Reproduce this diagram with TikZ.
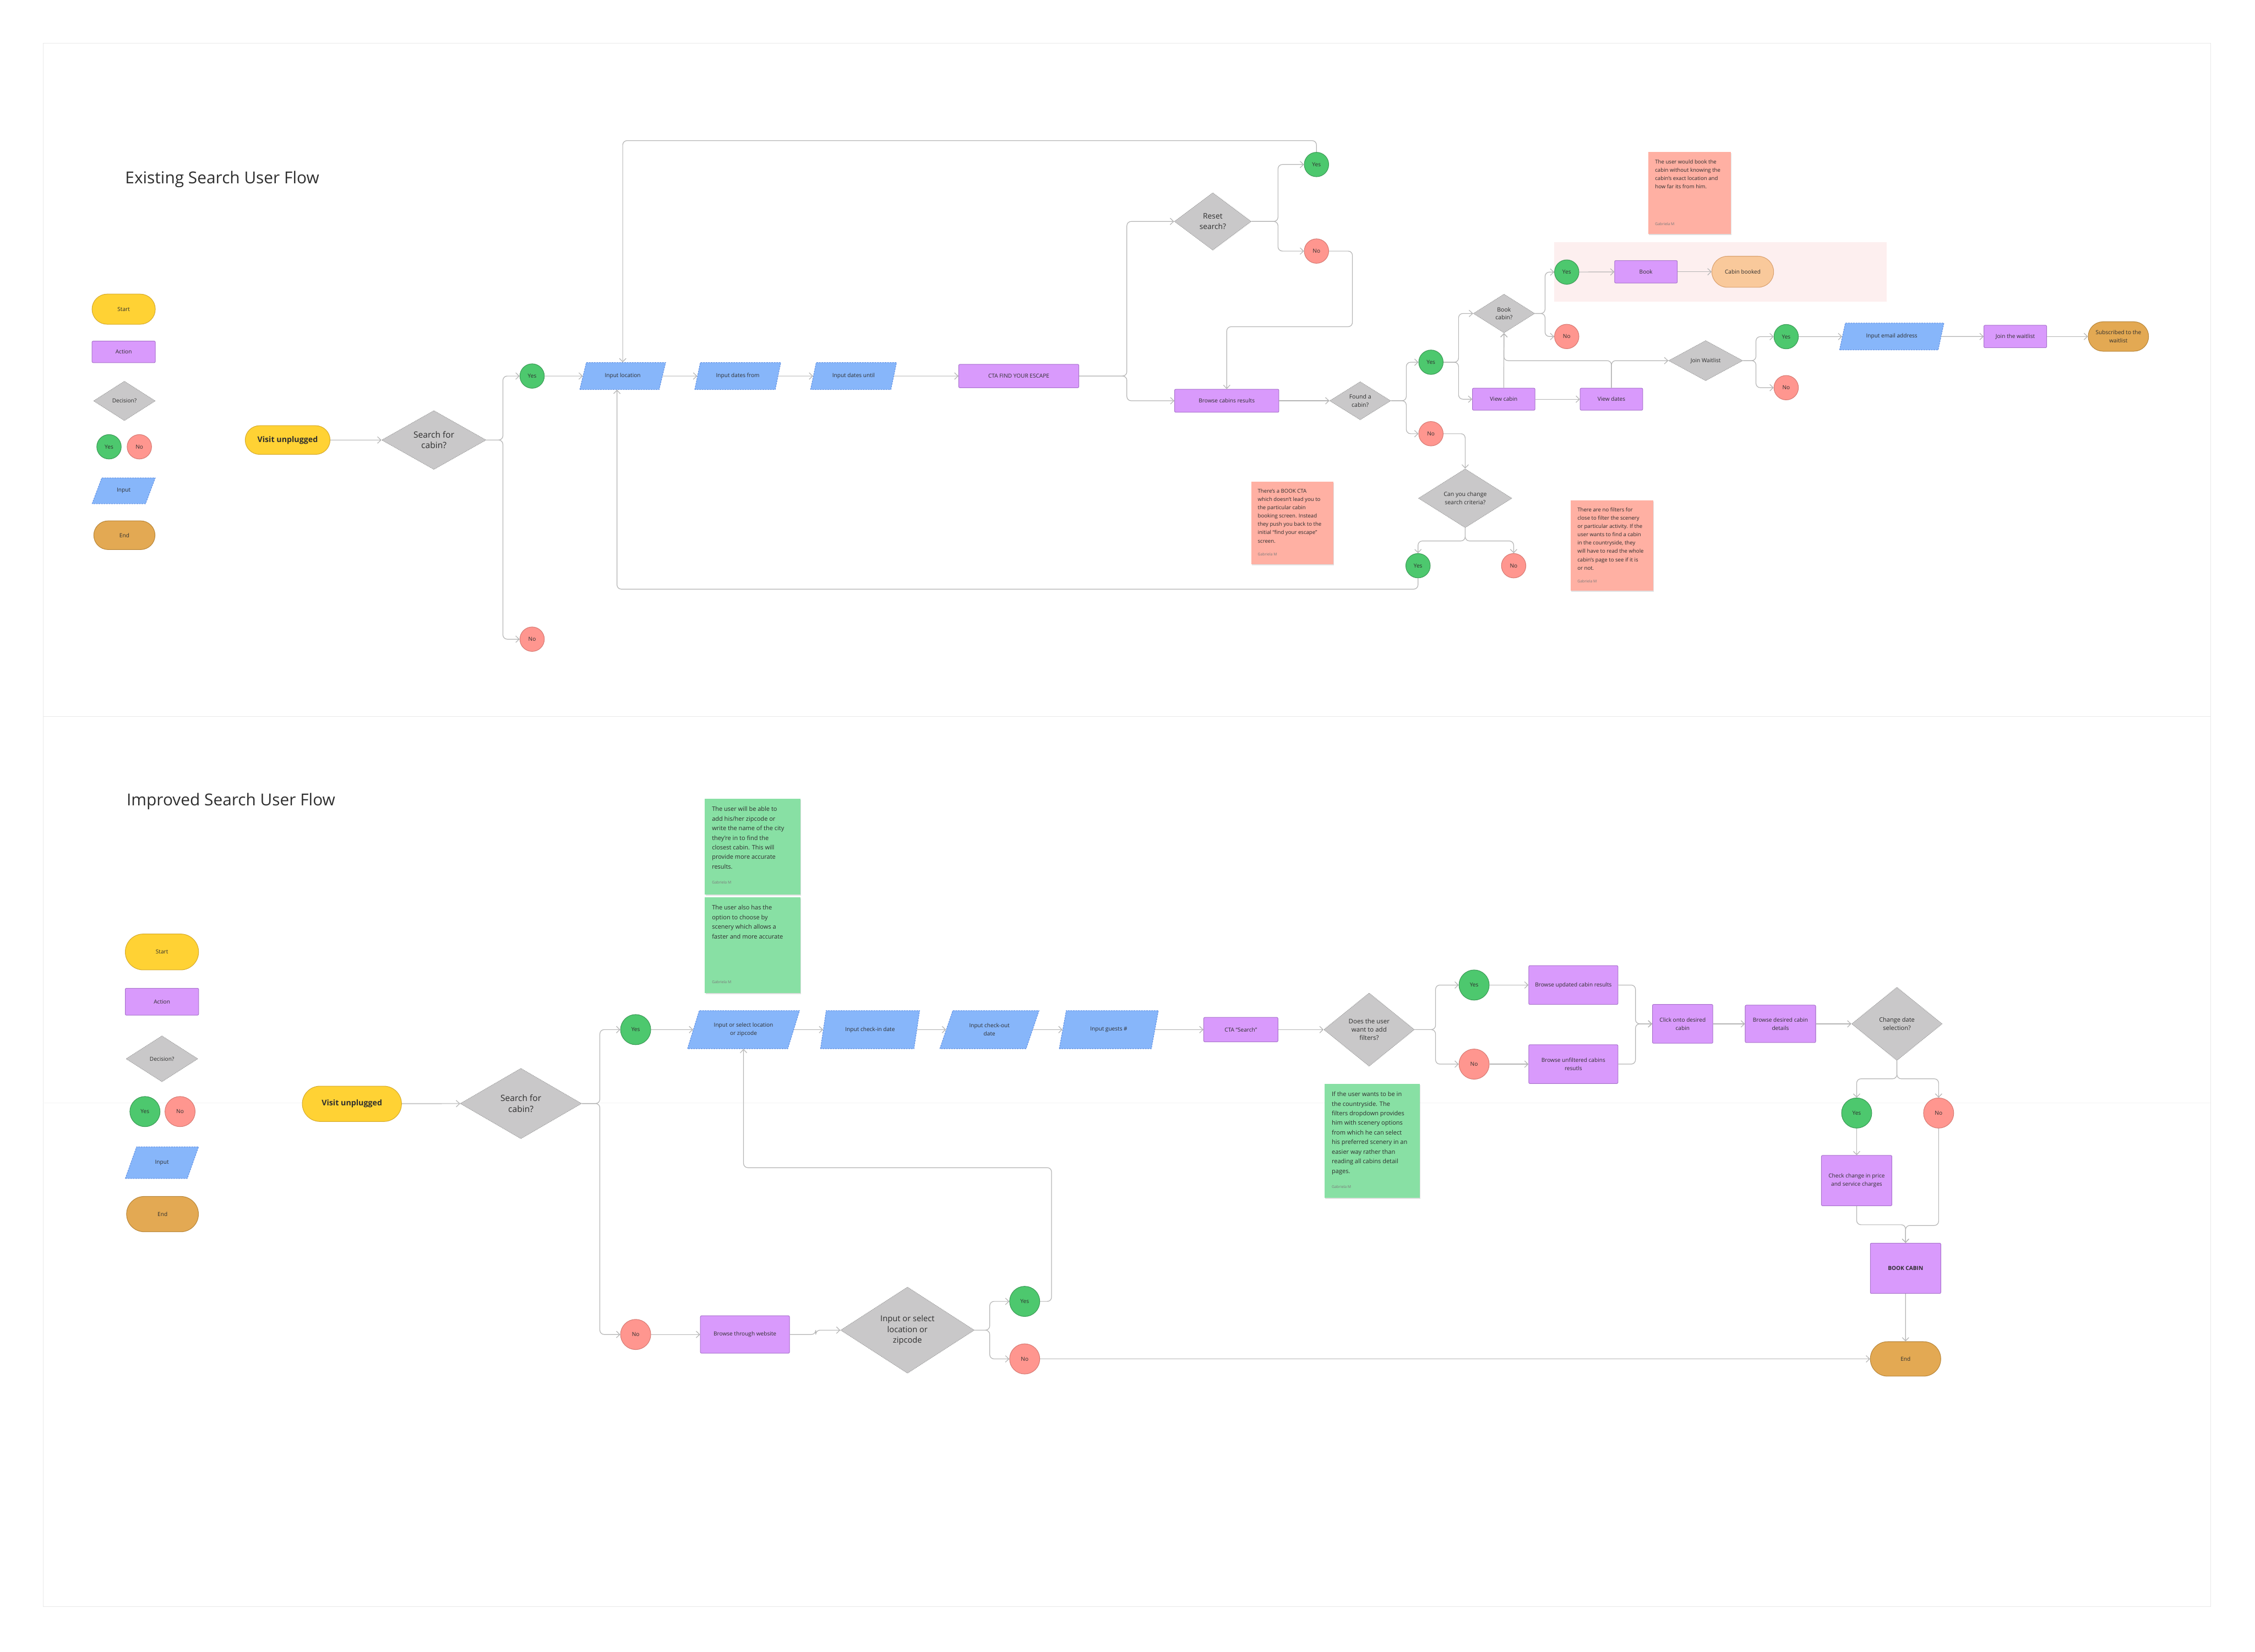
\documentclass[tikz,border=0pt]{standalone}
\usepackage{fontspec}
\setmainfont{Open Sans}
\usetikzlibrary{shapes.geometric,shapes.misc,arrows.meta,shadows}

\definecolor{ink}{HTML}{2E2E2E}
\definecolor{linegray}{HTML}{B4B4B4}
\definecolor{framegray}{HTML}{E9E9E9}
\definecolor{startfill}{HTML}{FFD234}
\definecolor{startdraw}{HTML}{D6AA2A}
\definecolor{actionfill}{HTML}{D99AFC}
\definecolor{actiondraw}{HTML}{A872CC}
\definecolor{decfill}{HTML}{C9C8C9}
\definecolor{decdraw}{HTML}{A3A3A3}
\definecolor{yesfill}{HTML}{4DC86E}
\definecolor{yesdraw}{HTML}{3A9A55}
\definecolor{nofill}{HTML}{FF968F}
\definecolor{nodraw}{HTML}{D67972}
\definecolor{inputfill}{HTML}{87B6FA}
\definecolor{inputdraw}{HTML}{5C8DE2}
\definecolor{endfill}{HTML}{E3A953}
\definecolor{enddraw}{HTML}{B88537}
\definecolor{bookedfill}{HTML}{F9C99B}
\definecolor{bookeddraw}{HTML}{D9A06E}
\definecolor{pinkzone}{HTML}{FDEFEF}
\definecolor{salmonnote}{HTML}{FFB0A3}
\definecolor{greennote}{HTML}{88E0A4}
\definecolor{signgray}{HTML}{7A7A7A}

\newcommand{\lblfont}{\fontsize{11}{16}\selectfont}
\newcommand{\nlblfont}{\fontsize{11}{16}\selectfont}
\newcommand{\decfont}{\fontsize{11.5}{16}\selectfont}
\newcommand{\bigdecfont}{\fontsize{17}{21}\selectfont}
\newcommand{\visitfont}{\fontsize{15.5}{18}\selectfont\bfseries}
\newcommand{\notefont}{\fontsize{10.5}{16.4}\selectfont}
\newcommand{\gnotefont}{\fontsize{12}{19}\selectfont}
\newcommand{\signfont}{\fontsize{7.5}{9}\selectfont}
\newcommand{\titlefont}{\fontsize{32.5}{36}\selectfont}

\tikzset{
  wh/.style 2 args={minimum width=#1mm, minimum height=#2mm},
  flowbase/.style={inner sep=0pt, text=ink, font=\lblfont, align=center, line width=1.1pt},
  terminal/.style={flowbase, rounded rectangle, draw=startdraw, fill=startfill},
  action/.style={flowbase, rectangle, rounded corners=0.8mm, draw=actiondraw, fill=actionfill},
  decision/.style={flowbase, diamond, draw=decdraw, fill=decfill, dash pattern=on 2pt off 1.3pt},
  yesball/.style={flowbase, circle, draw=yesdraw, fill=yesfill, minimum size=17mm},
  noball/.style={flowbase, circle, draw=nodraw, fill=nofill, minimum size=17mm},
  inputbox/.style={flowbase, trapezium, trapezium left angle=60, trapezium right angle=120,
    trapezium stretches=true, draw=inputdraw, fill=inputfill, dash pattern=on 3pt off 2pt},
  endbox/.style={flowbase, rounded rectangle, draw=enddraw, fill=endfill},
  bookedbox/.style={flowbase, rounded rectangle, draw=bookeddraw, fill=bookedfill},
  sticky/.style={rectangle, inner sep=0pt, anchor=north west,
    drop shadow={shadow xshift=0.5mm, shadow yshift=-0.8mm, fill=black, opacity=0.12}},
  notetext/.style={anchor=north west, inner sep=0pt, align=left, text=ink, font=\notefont},
  signature/.style={anchor=north west, inner sep=0pt, text=signgray, font=\signfont},
  connector/.style={draw=linegray, line width=1.3pt, rounded corners=3mm, ->},
}

\begin{document}
\begin{tikzpicture}[x=1mm, y=-1mm, >={Straight Barb[length=2.4mm,width=4.6mm]}]
    \fill[white] (0,0) rectangle (1568,1148.8);
    \useasboundingbox (0,0) rectangle (1568,1148.8);
    \draw[framegray, line width=0.6pt] (30,30) rectangle (1537,498);
    \draw[framegray, line width=0.6pt] (30,498) rectangle (1537,1117);
    \draw[framegray!50, line width=0.6pt] (30,767) -- (1537,767);
    \fill[pinkzone] (1080.6,168.4) rectangle (1311.7,209.8);

    \node[anchor=west, font=\titlefont, text=ink, inner sep=0pt] (titleold) at (87,124.6) {Existing Search User Flow};
    \node[anchor=west, font=\titlefont, text=ink, inner sep=0pt] (titlenew) at (88,557.3) {Improved Search User Flow};

    \node[terminal, wh={44}{21}] (keystart) at (86,215) {Start};
    \node[action, wh={44}{15}] (keyaction) at (86,244.7) {Action};
    \node[decision, wh={43}{27.5}] (keydecision) at (86.5,278.8) {Decision?};
    \node[yesball] (keyyes) at (75.8,310.7) {Yes};
    \node[noball] (keyno) at (96.9,310.7) {No};
    \node[inputbox, wh={44}{18}] (keyinput) at (86,341.3) {Input};
    \node[endbox, wh={42.6}{20}] (keyend) at (86.5,372.2) {End};

    \node[terminal, wh={59}{20}, font=\visitfont] (visit) at (200,306) {Visit unplugged};
    \node[decision, wh={72.6}{41}, font=\bigdecfont] (search) at (301.7,306) {Search for\\cabin?};
    \node[yesball] (yes1) at (370,261.5) {Yes};
    \node[noball] (no1) at (370,444.5) {No};
    \node[inputbox, wh={60}{18.7}] (location) at (433,261.5) {Input location};
    \node[inputbox, wh={60}{18.7}] (datesfrom) at (513,261.5) {Input dates from};
    \node[inputbox, wh={60}{18.7}] (datesuntil) at (593.5,261.5) {Input dates until};
    \node[action, wh={83.5}{16.3}] (cta) at (708.4,261.5) {CTA FIND YOUR ESCAPE};
    \node[decision, wh={53.5}{40}, font=\fontsize{15}{21}\selectfont] (reset) at (843.3,154) {Reset\\search?};
    \node[yesball] (resetyes) at (915.4,114.4) {Yes};
    \node[noball] (resetno) at (915.4,174.6) {No};
    \node[action, wh={72.5}{16}] (browse) at (853,278.7) {Browse cabins results};
    \node[decision, wh={42.5}{26.6}, font=\decfont] (found) at (945.8,278.7) {Found a\\cabin?};
    \node[yesball] (foundyes) at (995,251.9) {Yes};
    \node[noball] (foundno) at (995,301.6) {No};
    \node[decision, wh={42.7}{27}, font=\decfont] (bookq) at (1045.8,218) {Book\\cabin?};
    \node[action, wh={43.5}{15.3}] (viewcabin) at (1045.6,277.6) {View cabin};
    \node[action, wh={43.5}{15.3}] (viewdates) at (1120.5,277.6) {View dates};
    \node[yesball] (bookyes) at (1089.4,189.2) {Yes};
    \node[noball] (bookno) at (1089.4,234) {No};
    \node[action, wh={43.6}{15.6}] (book) at (1144.5,189) {Book};
    \node[bookedbox, wh={43}{21.6}] (booked) at (1211.8,189) {Cabin booked};
    \node[decision, wh={51.6}{28}] (joinq) at (1186,250.8) {Join Waitlist};
    \node[yesball] (joinyes) at (1242,234.1) {Yes};
    \node[noball] (joinno) at (1242,269.6) {No};
    \node[inputbox, wh={72.7}{18.7}] (email) at (1315.4,234) {Input email address};
    \node[action, wh={43.6}{15.6}] (joinlist) at (1401.3,234) {Join the waitlist};
    \node[endbox, wh={42}{20.5}] (subscribed) at (1473,234) {Subscribed to the\\waitlist};
    \node[decision, wh={65}{41}, font=\decfont] (changeq) at (1018.8,346.5) {Can you change\\search criteria?};
    \node[yesball] (changeyes) at (986,393.4) {Yes};
    \node[noball] (changeno) at (1052.5,393.4) {No};

    \draw[connector] (visit) -- (search);
    \draw[connector] (search.east) -- ++(11.5,0) |- (yes1.west);
    \draw[connector] (search.east) -- ++(11.5,0) |- (no1.west);
    \draw[connector] (yes1) -- (location);
    \draw[connector] (location) -- (datesfrom);
    \draw[connector] (datesfrom) -- (datesuntil);
    \draw[connector] (datesuntil) -- (cta);
    \draw[connector] (cta.east) -- ++(33.2,0) |- (reset.west);
    \draw[connector] (cta.east) -- ++(33.2,0) |- (browse.west);
    \draw[connector] (reset.east) -- ++(18.4,0) |- (resetyes.west);
    \draw[connector] (reset.east) -- ++(18.4,0) |- (resetno.west);
    \draw[connector] (resetyes.north) -- ++(0,-7.9) -| (location.north);
    \draw[connector] (resetno.east) -| ++(16.3,52.6) -| (browse.north);
    \draw[connector] (browse) -- (found);
    \draw[connector] (found.east) -- ++(10.6,0) |- (foundyes.west);
    \draw[connector] (found.east) -- ++(10.6,0) |- (foundno.west);
    \draw[connector] (foundyes.east) -- ++(10.5,0) |- (bookq.west);
    \draw[connector] (foundyes.east) -- ++(10.5,0) |- (viewcabin.west);
    \draw[connector] (viewcabin) -- (bookq);
    \draw[connector] (viewcabin) -- (viewdates);
    \draw[connector] (viewdates.north) |- (viewcabin.north |- joinq.west) -- (bookq.south);
    \draw[connector] (viewdates.north) |- (joinq.west);
    \draw[connector] (bookq.east) -- ++(7,0) |- (bookyes.west);
    \draw[connector] (bookq.east) -- ++(7,0) |- (bookno.west);
    \draw[connector] (bookyes) -- (book);
    \draw[connector] (book) -- (booked);
    \draw[connector] (joinq.east) -- ++(9,0) |- (joinyes.west);
    \draw[connector] (joinq.east) -- ++(9,0) |- (joinno.west);
    \draw[connector] (joinyes) -- (email);
    \draw[connector] (email) -- (joinlist);
    \draw[connector] (joinlist) -- (subscribed);
    \draw[connector] (foundno.east) -| (changeq.north);
    \draw[connector] (changeq.south) -- ++(0,9) -| (changeyes.north);
    \draw[connector] (changeq.south) -- ++(0,9) -| (changeno.north);
    \draw[connector] (changeyes.south) -- ++(0,7.6) -| ([xshift=-4mm]location.south);

    \node[sticky, fill=salmonnote, wh={57.4}{57}] (notebook) at (1146,105.7) {};
    \node[notetext] (notebooktext) at ([shift={(4.8,5.4)}]notebook.north west) {The user would book the\\cabin without knowing the\\cabin’s exact location and\\how far its from him.};
    \node[signature] (notebooksign) at ([shift={(4.8,48.8)}]notebook.north west) {Gabriela M};
    \node[sticky, fill=salmonnote, wh={57}{57.3}] (notecta) at (870,335) {};
    \node[notetext] (notectatext) at ([shift={(4.5,5.0)}]notecta.north west) {There’s a BOOK CTA\\which doesn’t lead you to\\the particular cabin\\booking screen. Instead\\they push you back to the\\initial “find your escape”\\screen.};
    \node[signature] (notectasign) at ([shift={(4.5,49.5)}]notecta.north west) {Gabriela M};
    \node[sticky, fill=salmonnote, wh={57.4}{62.8}] (notefilter) at (1092,348) {};
    \node[notetext] (notefiltertext) at ([shift={(4.8,5.0)}]notefilter.north west) {There are no filters for\\close to filter the scenery\\or particular activity. If the\\user wants to find a cabin\\in the countryside, they\\will have to read the whole\\cabin’s page to see if it is\\or not.};
    \node[signature] (notefiltersign) at ([shift={(4.8,55)}]notefilter.north west) {Gabriela M};

    \node[terminal, wh={51}{25}] (nkeystart) at (112.6,662) {Start};
    \node[action, wh={51}{18.7}] (nkeyaction) at (112.6,696.6) {Action};
    \node[decision, wh={50}{32}] (nkeydecision) at (112.6,736.3) {Decision?};
    \node[yesball, minimum size=21mm] (nkeyyes) at (100.8,773) {Yes};
    \node[noball, minimum size=21mm] (nkeyno) at (125.2,773) {No};
    \node[inputbox, wh={51}{22}] (nkeyinput) at (112.6,808.5) {Input};
    \node[endbox, wh={50}{24.6}] (nkeyend) at (113,844.3) {End};

    \node[terminal, wh={69}{24.6}, font=\visitfont] (nvisit) at (244.7,767.6) {Visit unplugged};
    \node[decision, wh={84.4}{49}, font=\bigdecfont] (nsearch) at (362.2,767.4) {Search for\\cabin?};
    \node[yesball, minimum size=21mm] (nyes) at (442,716) {Yes};
    \node[noball, minimum size=21mm] (nno) at (442,928) {No};
    \node[inputbox, wh={78}{26.5}, font=\nlblfont] (nlocation) at (517,716) {Input or select location\\or zipcode};
    \node[inputbox, wh={69}{26.5}, font=\nlblfont] (ncheckin) at (605,716) {Input check-in date};
    \node[inputbox, wh={69}{26.5}, font=\nlblfont] (ncheckout) at (688,716) {Input check-out\\date};
    \node[inputbox, wh={69}{26.5}, font=\nlblfont] (nguests) at (771,716) {Input guests \#};
    \node[action, wh={51.6}{17}, font=\nlblfont] (ncta) at (862.8,716) {CTA “Search”};
    \node[decision, wh={63}{51}, font=\fontsize{12.5}{16}\selectfont] (nfilters) at (952,716) {Does the user\\want to add\\filters?};
    \node[yesball, minimum size=21mm] (nfyes) at (1025,685) {Yes};
    \node[noball, minimum size=21mm] (nfno) at (1025,740) {No};
    \node[action, wh={62}{27}, font=\nlblfont] (nupdated) at (1094,685) {Browse updated cabin results};
    \node[action, wh={62}{27}, font=\nlblfont] (nunfiltered) at (1094,740) {Browse unfiltered cabins\\resutls};
    \node[action, wh={42}{27}, font=\nlblfont] (nclick) at (1170,712) {Click onto desired\\cabin};
    \node[action, wh={49}{26}, font=\nlblfont] (ndetails) at (1238,712) {Browse desired cabin\\details};
    \node[decision, wh={63}{51}, font=\fontsize{12}{16}\selectfont] (ndate) at (1319,712) {Change date\\selection?};
    \node[yesball, minimum size=21mm] (ndyes) at (1291,774) {Yes};
    \node[noball, minimum size=21mm] (ndno) at (1348,774) {No};
    \node[action, wh={49}{35}, font=\nlblfont] (ncheck) at (1291,821) {Check change in price\\and service charges};
    \node[action, wh={49}{35}, font=\nlblfont\bfseries] (nbook) at (1325,882) {BOOK CABIN};
    \node[endbox, wh={49}{24}, font=\nlblfont] (nend) at (1325,945) {End};
    \node[action, wh={62}{26}, font=\nlblfont] (nbrowse) at (518,928) {Browse through website};
    \node[decision, wh={93}{60}, font=\fontsize{16}{21}\selectfont] (ninput) at (631,925) {Input or select\\location or\\zipcode};
    \node[yesball, minimum size=21mm] (niyes) at (712.5,905) {Yes};
    \node[noball, minimum size=21mm] (nino) at (712.5,945) {No};

    \draw[connector] (nvisit) -- (nsearch);
    \draw[connector] (nsearch.east) -- ++(12.5,0) |- (nyes.west);
    \draw[connector] (nsearch.east) -- ++(12.5,0) |- (nno.west);
    \draw[connector] (nyes) -- (nlocation);
    \draw[connector] (nlocation) -- (ncheckin);
    \draw[connector] (ncheckin) -- (ncheckout);
    \draw[connector] (ncheckout) -- (nguests);
    \draw[connector] (nguests) -- (ncta);
    \draw[connector] (ncta) -- (nfilters);
    \draw[connector] (nfilters.east) -- ++(14.5,0) |- (nfyes.west);
    \draw[connector] (nfilters.east) -- ++(14.5,0) |- (nfno.west);
    \draw[connector] (nfyes) -- (nupdated);
    \draw[connector] (nfno) -- (nunfiltered);
    \draw[connector] (nupdated.east) -- ++(12,0) |- (nclick.west);
    \draw[connector] (nunfiltered.east) -- ++(12,0) |- (nclick.west);
    \draw[connector] (nclick) -- (ndetails);
    \draw[connector] (ndetails) -- (ndate);
    \draw[connector] (ndate.south) -- ++(0,12.5) -| (ndyes.north);
    \draw[connector] (ndate.south) -- ++(0,12.5) -| (ndno.north);
    \draw[connector] (ndyes) -- (ncheck);
    \draw[connector] (ncheck.south) -- ++(0,13) -| (nbook.north);
    \draw[connector] (ndno.south) -- ++(0,67.5) -| (nbook.north);
    \draw[connector] (nbook) -- (nend);
    \draw[connector] (nno) -- (nbrowse);
    \draw[connector] (nbrowse.east) -- ++(18,0) |- (ninput.west);
    \draw[connector] (ninput.east) -- ++(10.5,0) |- (niyes.west);
    \draw[connector] (ninput.east) -- ++(10.5,0) |- (nino.west);
    \draw[connector] (niyes.east) -| ++(8,-93) -| (nlocation.south);
    \draw[connector] (nino) -- (nend);

    \node[sticky, fill=greennote, wh={66.5}{66.5}] (nnotezip) at (490,555.5) {};
    \node[notetext, font=\gnotefont] (nnoteziptext) at ([shift={(5,5.4)}]nnotezip.north west) {The user will be able to\\add his/her zipcode or\\write the name of the city\\they’re in to find the\\closest cabin. This will\\provide more accurate\\results.};
    \node[signature] (nnotezipsign) at ([shift={(5,57.2)}]nnotezip.north west) {Gabriela M};
    \node[sticky, fill=greennote, wh={66.5}{66.6}] (nnotescenery) at (490,624) {};
    \node[notetext, font=\gnotefont] (nnotescenerytext) at ([shift={(5,5.4)}]nnotescenery.north west) {The user also has the\\option to choose by\\scenery which allows a\\faster and more accurate};
    \node[signature] (nnotescenerysign) at ([shift={(5,57.8)}]nnotescenery.north west) {Gabriela M};
    \node[sticky, fill=greennote, wh={66}{79.5}] (nnotefilters) at (921,753.5) {};
    \node[notetext, font=\gnotefont] (nnotefilterstext) at ([shift={(5,5.6)}]nnotefilters.north west) {If the user wants to be in\\the countryside. The\\filters dropdown provides\\him with scenery options\\from which he can select\\his preferred scenery in an\\easier way rather than\\reading all cabins detail\\pages.};
    \node[signature] (nnotefilterssign) at ([shift={(5,70.8)}]nnotefilters.north west) {Gabriela M};
\end{tikzpicture}
\end{document}
